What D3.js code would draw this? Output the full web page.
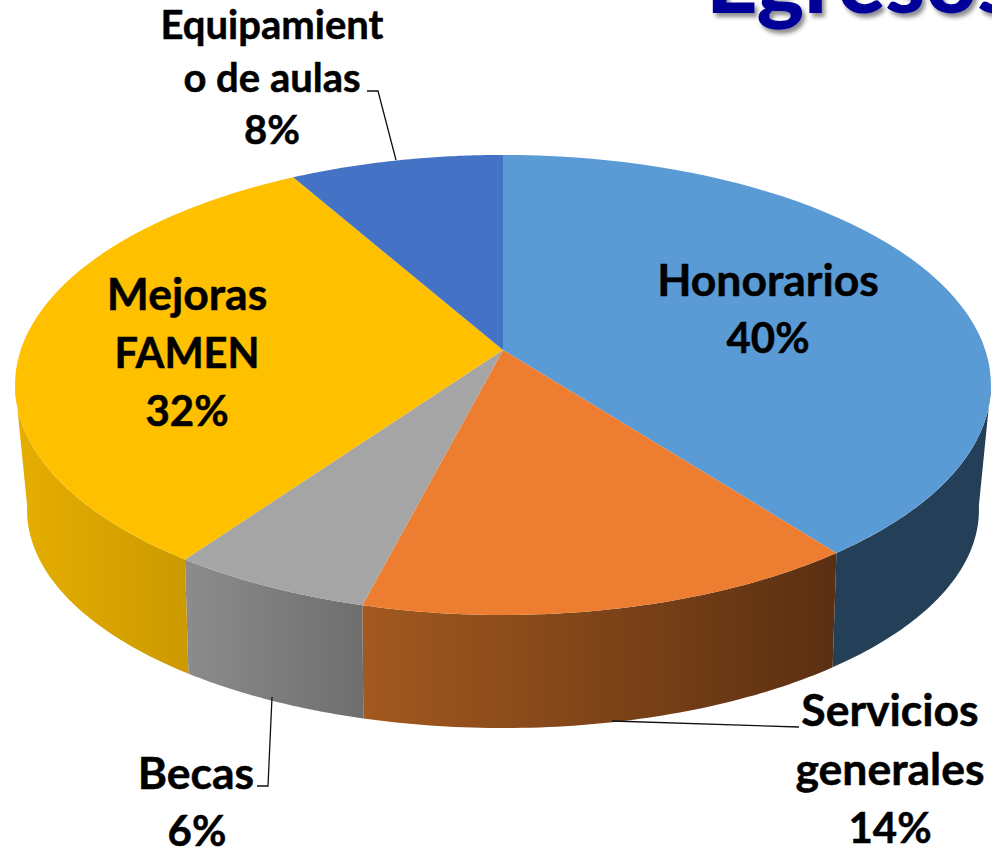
<!DOCTYPE html>
<html>
<head>
<meta charset="utf-8">
<script src="https://cdn.jsdelivr.net/npm/d3@7/dist/d3.min.js"></script>
<style>
html,body{margin:0;padding:0;background:#fff;overflow:hidden}
svg{display:block}
text{font-family:Lato,"Open Sans",sans-serif;font-weight:700;fill:#000;stroke:#000;stroke-width:.5px}
</style>
</head>
<body>
<svg id="c" width="992" height="850"></svg>
<script>
const categories = ["Honorarios","Servicios generales","Becas","Mejoras FAMEN","Equipamiento de aulas"];
const values = [39.6,14.4,5.8,32,8.2];
const topColors = ["#5B9BD5","#ED7D31","#A5A5A5","#FFC000","#4472C4"];
const wallLeft  = ["#244059","#A3591F","#8C8C8C","#E6AE00","#2A4478"];
const wallRight = ["#244059","#5A2F12","#6E6E6E","#CC9A00","#2A4478"];
const titleText = "Egresos";

const svg = d3.select("#c");
const defs = svg.append("defs");
const topP = {cx:503, cy:350, a:482.3, b:224.7, k:0.152};
const botP = {cx:503, cy:473, a:469,   b:211.7, k:0.17};
const proj = (p,t) => { const u=Math.sin(t), v=-Math.cos(t), w=1-p.k*v;
  return [p.cx+p.a*u/w, p.cy+p.b*v/w]; };
const arcs = d3.pie().sort(null).value(d=>d)(values);
const line = d3.line();
const sample = (t0,t1) => d3.range(0,61).map(i=>t0+(t1-t0)*i/60);

// side walls start at the silhouette tangent of the top ellipse
const HALF_R = Math.acos(-topP.k), HALF_L = 2*Math.PI-HALF_R;
arcs.forEach((s,i)=>{
  const t0=Math.max(s.startAngle,HALF_R), t1=Math.min(s.endAngle,HALF_L);
  if(t1<=t0) return;
  const ts=sample(t0,t1);
  const pts=ts.map(t=>proj(topP,t)).concat(ts.slice().reverse().map(t=>proj(botP,t)));
  const xs=pts.map(p=>p[0]);
  const id="w"+i;
  const g=defs.append("linearGradient").attr("id",id).attr("gradientUnits","userSpaceOnUse")
    .attr("x1",d3.min(xs)).attr("x2",d3.max(xs)).attr("y1",0).attr("y2",0);
  g.append("stop").attr("offset",0).attr("stop-color",wallLeft[i]);
  g.append("stop").attr("offset",1).attr("stop-color",wallRight[i]);
  svg.append("path").attr("d",line(pts)+"Z").attr("fill",`url(#${id})`);
});

// top faces
svg.selectAll("path.top").data(arcs).join("path").attr("class","top")
  .attr("fill",(d,i)=>topColors[i])
  .attr("d",d=>line([[topP.cx,topP.cy]].concat(sample(d.startAngle,d.endAngle).map(t=>proj(topP,t))))+"Z");

// leader lines
const leaders=[
  [[799,727],[612,721]],
  [[257,786],[268,786],[272,697]],
  [[367,91],[378,91],[396,160]]
];
svg.selectAll("path.leader").data(leaders).join("path").attr("class","leader")
  .attr("d",d=>line(d)).attr("fill","none").attr("stroke","#111").attr("stroke-width",1.3);

// data labels
const pct = d3.format(".0f");
const share = values.map(v=>pct(v)+"%");
const fs=44.5, ps=42;
const labels=[
  {x:768,lines:["Honorarios",share[0]],ys:[296,353],fss:[fs,ps]},
  {x:890,lines:["Servicios","generales",share[1]],ys:[726,785,843],fss:[fs,fs,ps]},
  {x:196,lines:["Becas"],ys:[789],fss:[fs]},
  {x:197,lines:[share[2]],ys:[846],fss:[ps]},
  {x:187,lines:["Mejoras","FAMEN",share[3]],ys:[310,368,426],fss:[fs,41.5,ps]},
  {x:272,lines:["Equipamient","o de aulas",share[4]],ys:[39,92,144],fss:[40,40,40]}
];
labels.forEach(l=>l.lines.forEach((t,j)=>{
  svg.append("text").attr("x",l.x).attr("y",l.ys[j]).attr("text-anchor","middle")
    .attr("font-size",l.fss[j]).text(t);
}));

// clipped slide title
const f=defs.append("filter").attr("id","sh").attr("x","-10%").attr("y","-50%").attr("width","120%").attr("height","200%");
f.append("feDropShadow").attr("dx",3).attr("dy",4).attr("stdDeviation",2).attr("flood-color","#000").attr("flood-opacity",0.45);
svg.append("text").attr("x",706).attr("y",13).attr("font-size",90)
  .style("font-weight",900).style("fill","#000099").style("stroke","none").attr("filter","url(#sh)").text(titleText);
</script>
</body>
</html>
